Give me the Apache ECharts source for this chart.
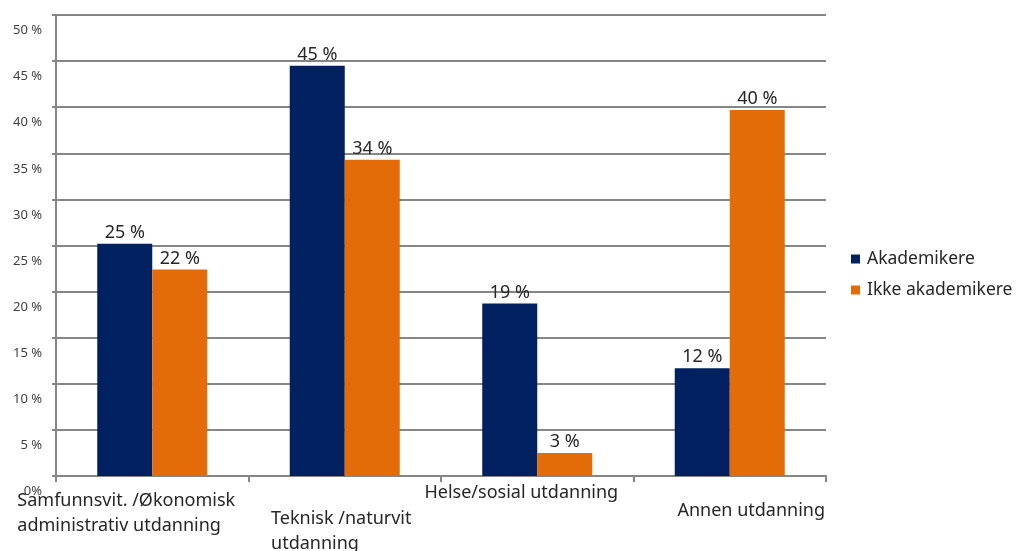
<!DOCTYPE html>
<html lang="no">
<head>
<meta charset="UTF-8" />
<title>Utdanning</title>
<script src="https://cdn.jsdelivr.net/npm/echarts@6/dist/echarts.min.js"></script>
<style type="text/css">
html,body{margin:0;padding:0;background:#fff;}
#main{width:1020px;height:551px;}
</style>
</head>
<body>
<div id="main"></div>
<script type="text/javascript">
// kategorier og verdier (prosent)
var categories = [
	'Samfunnsvit. /Økonomisk\nadministrativ utdanning',
	'Teknisk /naturvit\nutdanning',
	'Helse/sosial utdanning',
	'Annen utdanning'
];
var akademikere = [25.2, 44.5, 18.7, 11.7];
var ikkeAkademikere = [22.4, 34.3, 2.5, 39.7];
var seriesNames = ['Akademikere', 'Ikke akademikere'];

var font = '"Noto Sans", "Open Sans", sans-serif';

// kategoritekstene står forskjøvet i originalen: vannrett via rich, loddrett via padding
function tokenStyle(left, right) {
	return {fontFamily: font, fontSize: 18, color: '#262626', align: 'left', padding: [0, right, 0, left]};
}
var richLabels = {
	c0: tokenStyle(0, 52),
	c1: tokenStyle(0, 7),
	c2: tokenStyle(0, 32),
	c3: tokenStyle(43, 0)
};
var labelTop = [12, 30, 4, 22];

var myChart = echarts.init(document.getElementById('main'));
myChart.setOption({
	animation: false,
	grid: {left: 56, right: 194, top: 15, bottom: 75, outerBoundsMode: 'none', containLabel: false},
	legend: {
		orient: 'vertical',
		left: 846,
		top: 245,
		itemWidth: 9,
		itemHeight: 9,
		itemGap: 13,
		icon: 'rect',
		textStyle: {fontFamily: font, fontSize: 17.5, lineHeight: 16, color: '#262626', padding: [0, 0, 0, 2]},
		data: seriesNames
	},
	xAxis: {
		type: 'category',
		data: categories.map(function (c, i) {
			return {value: c, textStyle: {padding: [labelTop[i], 0, 0, 0], lineHeight: 25}};
		}),
		axisLine: {lineStyle: {color: '#868686', width: 2}},
		axisTick: {show: true, length: 6, lineStyle: {color: '#868686', width: 2}},
		axisLabel: {
			interval: 0,
			margin: 0,
			lineHeight: 25,
			formatter: function (v, i) {
				return v.split('\n').map(function (s) {
					return '{c' + i + '|' + s + '}';
				}).join('\n');
			},
			rich: richLabels
		}
	},
	yAxis: {
		type: 'value',
		min: 0,
		max: 50,
		interval: 5,
		axisLine: {show: true, lineStyle: {color: '#868686', width: 2}},
		axisTick: {show: true, length: 4, lineStyle: {color: '#868686', width: 2}},
		splitLine: {lineStyle: {color: '#868686', width: 2}},
		axisLabel: {
			formatter: function (v) { return v === 0 ? '0%' : v + ' %'; },
			fontFamily: font,
			fontSize: 13,
			color: '#404040',
			margin: 14,
			verticalAlign: 'top',
			padding: [9, 0, 0, 0]
		}
	},
	series: [
		{
			name: seriesNames[0],
			type: 'bar',
			data: akademikere,
			barWidth: 55,
			barGap: '0%',
			itemStyle: {color: '#002060'},
			label: {
				show: true,
				position: 'top',
				distance: 2,
				fontFamily: font,
				fontSize: 18,
				color: '#262626',
				formatter: function (p) { return Math.round(p.value) + ' %'; }
			}
		},
		{
			name: seriesNames[1],
			type: 'bar',
			data: ikkeAkademikere,
			barWidth: 55,
			barGap: '0%',
			itemStyle: {color: '#E36C09'},
			label: {
				show: true,
				position: 'top',
				distance: 2,
				fontFamily: font,
				fontSize: 18,
				color: '#262626',
				formatter: function (p) { return Math.round(p.value) + ' %'; }
			}
		}
	]
});
</script>
</body>
</html>
